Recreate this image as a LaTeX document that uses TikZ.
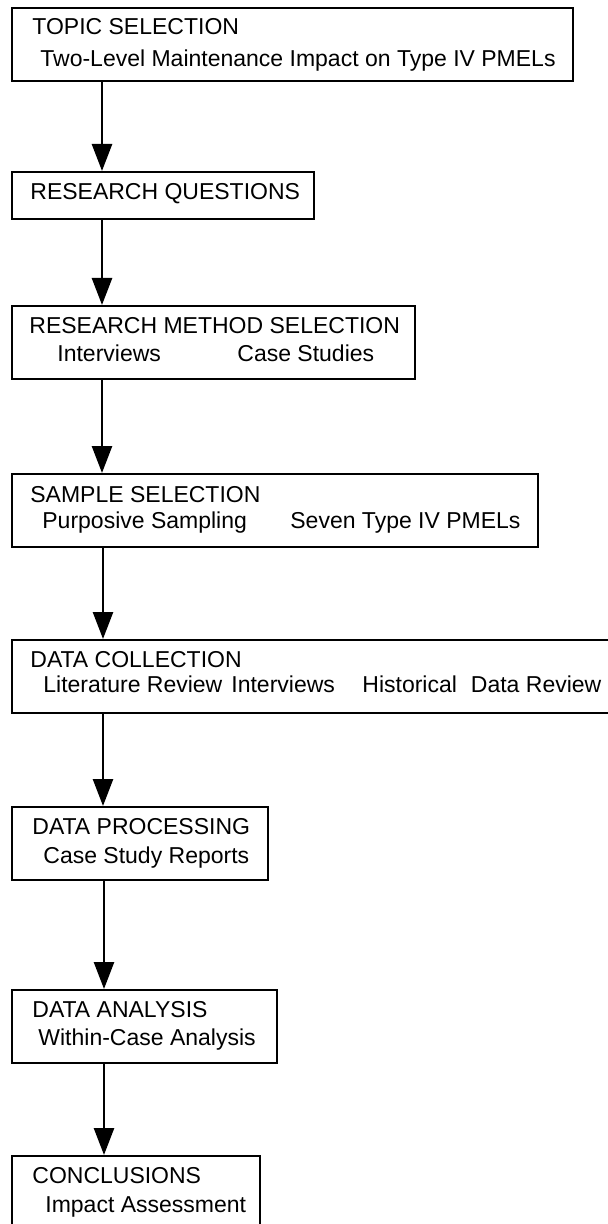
\documentclass[tikz,border=0pt]{standalone}
\usepackage{fontspec}
\setmainfont{Liberation Sans}
\usetikzlibrary{arrows.meta}
\usetikzlibrary{positioning}

\tikzset{
  stage/.style={draw, line width=1.1pt, anchor=north west, inner sep=0pt, minimum height=36.5pt},
  label/.style={anchor=base west, inner sep=0pt, font=\fontsize{11.5}{14}\selectfont},
  flow/.style={line width=1.3pt, -{Triangle[length=13.5pt, width=10pt]}},
}

\begin{document}
\begin{tikzpicture}[line join=miter, x=0.5pt, y=-0.5pt]
\useasboundingbox (0,0) rectangle (608,1224);
\clip (0,0) rectangle (608,1224);
% the eight stages, top to bottom
\node[stage, minimum width=280.5pt] (topic) at (11,7) {};
\node[stage, minimum width=151pt, minimum height=23.5pt] (quest) at (11,171) {};
\node[stage, minimum width=201.5pt] (method) at (11,305) {};
\node[stage, minimum width=263pt] (sample) at (11,473) {};
\node[stage, minimum width=310pt] (collect) at (11,639) {};
\node[stage, minimum width=128pt] (process) at (11,806) {};
\node[stage, minimum width=132.5pt] (analysis) at (11,989) {};
\node[stage, minimum width=124pt, minimum height=45pt] (concl) at (11,1155) {};
% texts
\node[label] (topicA) at (32,35) {TOPIC SELECTION};
\node[label] (topicB) at (40,67) {Two-Level Maintenance Impact on Type IV PMELs};
\node[label] (questA) at (30,200) {RESEARCH QUESTIONS};
\node[label] (methodA) at (29,334) {RESEARCH METHOD SELECTION};
\node[label] (methodB) at (57,362) {Interviews};
\node[label] (methodC) at (237,362) {Case Studies};
\node[label] (sampleA) at (30,502) {SAMPLE SELECTION};
\node[label] (sampleB) at (42,528) {Purposive Sampling};
\node[label] (sampleC) at (290,528) {Seven Type IV PMELs};
\node[label] (collectA) at (30,667) {DATA COLLECTION};
\node[label] (collectB) at (43,692) {Literature Review};
\node[label] (collectC) at (231,692) {Interviews};
\node[label] (collectD) at (362,692) {Historical\hspace{3.8pt} Data Review};
\node[label] (processA) at (32,834) {DATA PROCESSING};
\node[label] (processB) at (43,863) {Case Study Reports};
\node[label] (analysisA) at (32,1017) {DATA ANALYSIS};
\node[label] (analysisB) at (38,1045) {Within-Case Analysis};
\node[label] (conclA) at (32,1183) {CONCLUSIONS};
\node[label] (conclB) at (45,1212) {Impact Assessment};
% arrows down the left side
\draw[flow] ([xshift=45.5pt]topic.south west) -- ([xshift=45.5pt]quest.north west);
\draw[flow] ([xshift=45.5pt]quest.south west) -- ([xshift=45.5pt]method.north west);
\draw[flow] ([xshift=45.5pt]method.south west) -- ([xshift=45.5pt]sample.north west);
\draw[flow] ([xshift=46pt]sample.south west) -- ([xshift=46pt]collect.north west);
\draw[flow] ([xshift=46pt]collect.south west) -- ([xshift=46pt]process.north west);
\draw[flow] ([xshift=46.5pt]process.south west) -- ([xshift=46.5pt]analysis.north west);
\draw[flow] ([xshift=46.5pt]analysis.south west) -- ([xshift=46.5pt]concl.north west);
\end{tikzpicture}
\end{document}
